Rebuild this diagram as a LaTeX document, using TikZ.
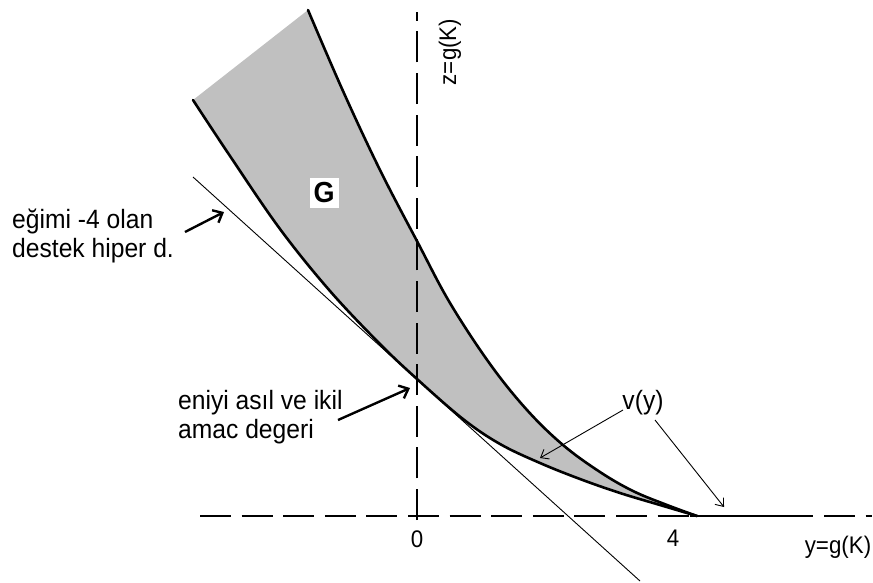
\documentclass[tikz,border=0pt]{standalone}
\usepackage{fontspec}
\setmainfont[FakeStretch=0.93]{Liberation Sans}
\usetikzlibrary{arrows.meta}
\definecolor{regiongray}{RGB}{192,192,192}
\begin{document}
\begin{tikzpicture}[x=1pt,y=-1pt,
  axis/.style={line width=1.2pt, dash pattern=on 31pt off 10.6pt},
  bound/.style={line width=2.6pt, line join=round, line cap=round},
  lbl/.style={font=\fontsize{26.5}{30}\selectfont, inner sep=0pt},
  axlbl/.style={font=\fontsize{24}{28}\selectfont, inner sep=0pt},
  thickarr/.style={line width=2.4pt, -{Straight Barb[length=8pt,width=14pt,line width=2.4pt]}},
  thinarr/.style={line width=0.9pt, -{Straight Barb[length=7pt,width=11pt,line width=0.9pt]}}]
\useasboundingbox (0,0) rectangle (873,582);
\def\uppercurve{(308,10) (343,91) (380,170) (418,243) (450,303) (490,364) (527,410) (563,445) (600,472) (633,491) (667,505) (697,516)}
\def\lowercurve{(193,100) (230,156) (280,229) (330,291) (380,344) (417,379) (463,419) (500,444) (540,463) (580,479) (620,493) (660,505) (697,516)}
% region G
\fill[regiongray] plot[smooth,tension=0.6] coordinates {(308,10) (343,91) (380,170) (418,243) (450,303) (490,364) (527,410) (563,445) (600,472) (633,491) (667,505) (697,516)}
  -- plot[smooth,tension=0.6] coordinates {(697,516) (660,505) (620,493) (580,479) (540,463) (500,444) (463,419) (417,379) (380,344) (330,291) (280,229) (230,156) (193,100)} -- cycle;
% axes
\coordinate (vb) at (417,520); \coordinate (vt) at (417,12);
\coordinate (hl) at (200,516); \coordinate (hr) at (872,516);
\draw[axis] (vb) -- (vt);
\draw[axis] (hl) -- (hr);
% boundaries
\draw[bound] plot[smooth,tension=0.6] coordinates {(308,10) (343,91) (380,170) (418,243) (450,303) (490,364) (527,410) (563,445) (600,472) (633,491) (667,505) (697,516)};
\draw[bound] plot[smooth,tension=0.6] coordinates {(193,100) (230,156) (280,229) (330,291) (380,344) (417,379) (463,419) (500,444) (540,463) (580,479) (620,493) (660,505) (697,516)};
\coordinate (fs) at (690,516); \coordinate (fe) at (790,516);
\draw[line width=2.6pt] (fs) -- (fe);
% supporting hyperplane
\coordinate (ts) at (193,177); \coordinate (te) at (640,581);
\draw[line width=0.9pt] (ts) -- (te);
% G label
\node[fill=white, minimum width=29pt, minimum height=30pt, inner sep=0pt, font=\bfseries\fontsize{29}{29}\selectfont] (G) at (324,193) {G};
% axis labels
\node[axlbl, rotate=90] (zl) at (450,52) {z=g(K)};
\node[axlbl] (zero) at (417,539) {0};
\node[axlbl] (four) at (673,538) {4};
\node[axlbl] (yl) at (838,547) {y=g(K)};
% texts
\node[lbl, anchor=base west] (t1) at (12,228) {eğimi -4 olan};
\node[lbl, anchor=base west] (t2) at (12,257) {destek hiper d.};
\node[lbl, anchor=base west] (t3) at (178,409) {eniyi asıl ve ikil};
\node[lbl, anchor=base west] (t4) at (178,438) {amac degeri};
\node[lbl] (vy) at (643,403) {v(y)};
% arrows
\coordinate (a1s) at (185,232); \coordinate (a1e) at (224,212);
\draw[thickarr] (a1s) -- (a1e);
\coordinate (a2s) at (338,420); \coordinate (a2e) at (410,388);
\draw[thickarr] (a2s) -- (a2e);
\coordinate (a3s) at (623,410); \coordinate (a3e) at (540,458);
\draw[thinarr] (a3s) -- (a3e);
\coordinate (a4s) at (655,420); \coordinate (a4e) at (724,507);
\draw[thinarr] (a4s) -- (a4e);
\end{tikzpicture}
\end{document}
